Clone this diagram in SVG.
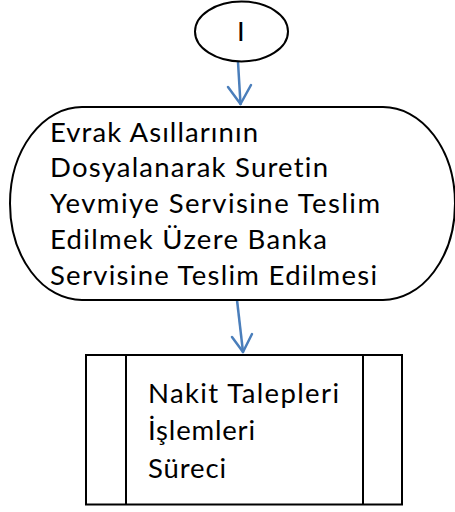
<svg xmlns="http://www.w3.org/2000/svg" width="455" height="512" viewBox="0 0 455 512">
  <defs>
    <style>
      .shape { fill: #ffffff; stroke: #000000; stroke-width: 2; }
      .txt { font-family: "Lato", "Open Sans", "Liberation Sans", sans-serif; font-size: 27.5px; fill: #000000; font-variant-ligatures: none; }
      .conn { fill: none; stroke: #4a7ebb; stroke-width: 2.5; stroke-linecap: round; stroke-linejoin: round; }
    </style>
  </defs>
  <rect width="455" height="512" fill="#ffffff"/>

  <g id="connectors">
    <path class="conn" d="M238,62 L240.5,104"/>
    <path class="conn" d="M228,87 L240.5,104 L251,85"/>
    <path class="conn" d="M237,300 L243,352"/>
    <path class="conn" d="M232,337 L243,352 L252,334"/>
  </g>

  <g id="node-start">
    <ellipse class="shape" cx="241.5" cy="31.5" rx="46.5" ry="30"/>
    <text class="txt" x="237" y="40.5">I</text>
  </g>

  <g id="node-terminator">
    <path class="shape" d="M82,107 L383,107 A72,96.5 0 0 1 383,300 L82,300 A72,96.5 0 0 1 82,107 Z"/>
    <text class="txt" x="50" y="141.5" textLength="208">Evrak Asıllarının</text>
    <text class="txt" x="50" y="177.3" textLength="278">Dosyalanarak Suretin</text>
    <text class="txt" x="50" y="213.2" textLength="330">Yevmiye Servisine Teslim</text>
    <text class="txt" x="50" y="249" textLength="277">Edilmek Üzere Banka</text>
    <text class="txt" x="50" y="284.8" textLength="327">Servisine Teslim Edilmesi</text>
  </g>

  <g id="node-process">
    <rect class="shape" x="86" y="355" width="316" height="149.5"/>
    <line class="shape" x1="126" y1="355" x2="126" y2="504.5"/>
    <line class="shape" x1="363" y1="355" x2="363" y2="504.5"/>
    <text class="txt" x="148" y="402.7" textLength="191">Nakit Talepleri</text>
    <text class="txt" x="148" y="440.2" textLength="107">İşlemleri</text>
    <text class="txt" x="148" y="477.8" textLength="78">Süreci</text>
  </g>
</svg>
